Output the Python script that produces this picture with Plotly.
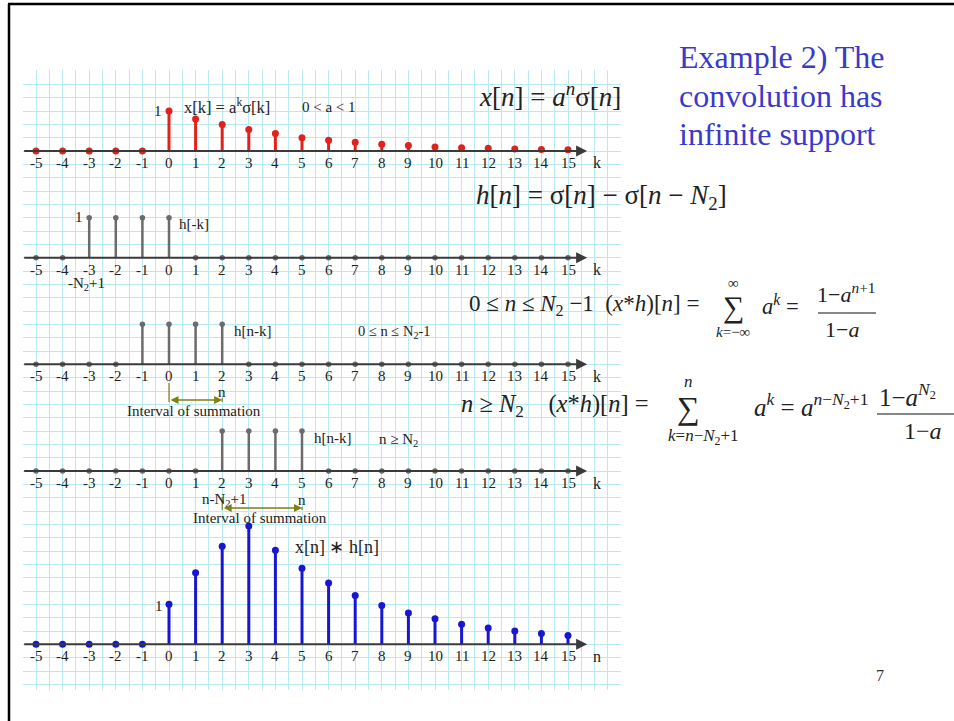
import plotly.graph_objects as go

# ---------------------------------------------------------------- data
k = list(range(-5, 16))

# x[k] = a^k sigma[k]
x_k = [0, 0, 0, 0, 0,
       1.0, 0.8, 0.66, 0.54, 0.44, 0.33, 0.27, 0.22, 0.17, 0.14,
       0.1, 0.08, 0.07, 0.05, 0.04, 0.03]

# h[-k]
h_flip = [0, 0, 1, 1, 1, 1, 0, 0, 0, 0, 0, 0, 0, 0, 0, 0, 0, 0, 0, 0, 0]

# h[n-k] for n = 2
h_shift_small = [0, 0, 0, 0, 1, 1, 1, 1, 0, 0, 0, 0, 0, 0, 0, 0, 0, 0, 0, 0, 0]

# h[n-k] for n = 5
h_shift_large = [0, 0, 0, 0, 0, 0, 0, 1, 1, 1, 1, 0, 0, 0, 0, 0, 0, 0, 0, 0, 0]

# (x*h)[n]
y_conv = [0, 0, 0, 0, 0,
          1.0, 1.79, 2.45, 2.96, 2.35, 1.9, 1.53, 1.22, 0.97, 0.78,
          0.64, 0.5, 0.41, 0.33, 0.27, 0.22]

n_small, n_large, N2 = 2, 5, 4

# ---------------------------------------------------------------- geometry
W, H = 954, 721
GRID_L, GRID_R, GRID_T, GRID_B = 22.7, 621.2, 70, 690
UNIT = 40.0  # pixels per unit of amplitude
X_MIN, X_MAX = -5.5, 17.0


def px(x):
    return x / W


def py(y):
    return 1 - y / H


RED, GRAY, BLUE = "#e3211c", "#6b6b6b", "#1717d2"
AXIS_C = "#3a3a3a"
TXT = "#222222"
OLIVE = "#7f7f14"
SERIF = "Liberation Serif"

panels = [
    dict(vals=x_k, color=RED, base=151.0, yid="y", lw=3, ms=7, end="k"),
    dict(vals=h_flip, color=GRAY, base=257.7, yid="y2", lw=2.5, ms=5.5, end="k"),
    dict(vals=h_shift_small, color=GRAY, base=364.3, yid="y3", lw=2.5, ms=5.5, end="k"),
    dict(vals=h_shift_large, color=GRAY, base=471.0, yid="y4", lw=2.5, ms=5.5, end="k"),
    dict(vals=y_conv, color=BLUE, base=644.3, yid="y5", lw=3, ms=7, end="n"),
]

fig = go.Figure()
annotations = []
shapes = []

for p in panels:
    sx, sy = [], []
    for kk, v in zip(k, p["vals"]):
        if v != 0:
            sx += [kk, kk, None]
            sy += [0, v, None]
    fig.add_trace(go.Scatter(x=sx, y=sy, mode="lines", yaxis=p["yid"],
                             line=dict(color=p["color"], width=p["lw"]),
                             hoverinfo="skip", showlegend=False))
    fig.add_trace(go.Scatter(x=k, y=p["vals"], mode="markers", yaxis=p["yid"],
                             marker=dict(color=p["color"], size=p["ms"]),
                             cliponaxis=False, showlegend=False))
    # horizontal axis with arrow head
    annotations.append(dict(x=15.72, y=0, ax=X_MIN, ay=0, xref="x", yref=p["yid"],
                            axref="x", ayref=p["yid"], text="", showarrow=True,
                            arrowhead=2, arrowsize=1.1, arrowwidth=2,
                            arrowcolor=AXIS_C))
    # tick labels
    for kk in k:
        annotations.append(dict(x=kk, y=0, xref="x", yref=p["yid"], text=str(kk),
                                showarrow=False, yshift=-12, yanchor="middle",
                                font=dict(family=SERIF, size=15, color=TXT)))
    annotations.append(dict(x=15.85, y=0, xref="x", yref=p["yid"], text=p["end"],
                            showarrow=False, yshift=-12, xanchor="left",
                            yanchor="middle",
                            font=dict(family=SERIF, size=16, color=TXT)))


def label(text, x, y, size=15, xanchor="left", color=TXT):
    annotations.append(dict(x=px(x), y=py(y), xref="paper", yref="paper",
                            text=text, showarrow=False, xanchor=xanchor,
                            yanchor="middle",
                            font=dict(family=SERIF, size=size, color=color)))


# panel labels
label("1", 158, 111, xanchor="center")
label("x[k] = a<sup>k</sup>σ[k]", 182, 107, size=16.5)
label("0 &lt; a &lt; 1", 300, 107, size=15)

label("1", 79, 217, xanchor="center")
label("h[-k]", 177, 224)
label("-N<sub>2</sub>+1", 86, 284, xanchor="center")

label("h[n-k]", 232, 331)
label("0 ≤ n ≤ N<sub>2</sub>-1", 356, 332, size=14.5)
label("n", 222, 392, xanchor="center")
label("Interval of summation", 194, 411, xanchor="center")

label("h[n-k]", 312, 438)
label("n ≥ N<sub>2</sub>", 377, 440, size=15)
label("n-N<sub>2</sub>+1", 224, 500, xanchor="center")
label("n", 302, 500, xanchor="center")
label("Interval of summation", 260, 518, xanchor="center")

label("1", 159, 606, xanchor="center")
label("x[n] ∗ h[n]", 293, 547, size=18)


# interval of summation brackets
def bracket(yid, base, k0, k1, top0, top1, y_arrow):
    for kk, top in ((k0, top0), (k1, top1)):
        shapes.append(dict(type="line", xref="x", yref=yid, x0=kk, x1=kk,
                           y0=(base - top) / UNIT, y1=(base - y_arrow - 2) / UNIT,
                           line=dict(color=OLIVE, width=1.2)))
    annotations.append(dict(x=k1, y=(base - y_arrow) / UNIT, ax=k0,
                            ay=(base - y_arrow) / UNIT, xref="x", yref=yid,
                            axref="x", ayref=yid, text="", showarrow=True,
                            arrowside="end+start", arrowhead=2, arrowsize=1,
                            arrowwidth=1.6, arrowcolor=OLIVE))


bracket("y3", 364.3, 0, n_small, 383, 398, 400)
bracket("y4", 471.0, n_large - N2 + 1, n_large, 497, 507, 508)

# ---------------------------------------------------------------- right side text
TITLE_C = "#3a3ac8"
label("Example 2) The", 677, 57, size=32, color=TITLE_C)
label("convolution has", 677, 96, size=32, color=TITLE_C)
label("infinite support", 677, 134, size=32, color=TITLE_C)

FS = 27
label("<i>x</i>[<i>n</i>] = <i>a</i><sup><i>n</i></sup>σ[<i>n</i>]", 477, 95, size=FS)
label("<i>h</i>[<i>n</i>] = σ[<i>n</i>] − σ[<i>n</i> − <i>N</i><sub>2</sub>]",
      474, 197, size=FS)

# case 0 <= n <= N2-1
label("0 ≤ <i>n</i> ≤ <i>N</i><sub>2</sub> −1  (<i>x</i>*<i>h</i>)[<i>n</i>] =",
      467, 305, size=23)
label("∑", 733, 307, size=30, xanchor="center")
label("∞", 733, 283, size=15, xanchor="center")
label("<i>k</i>=−∞", 733, 332, size=15, xanchor="center")
label("<i>a</i><sup><i>k</i></sup> =", 760, 305, size=22.5)
label("1−<i>a</i><sup><i>n</i>+1</sup>", 846, 293, size=22, xanchor="center")
shapes.append(dict(type="line", xref="paper", yref="paper", x0=px(818), x1=px(876),
                   y0=py(313), y1=py(313), line=dict(color="#111", width=1.2)))
label("1−<i>a</i>", 842, 329, size=22, xanchor="center")

# case n >= N2
label("<i>n</i> ≥ <i>N</i><sub>2</sub>    (<i>x</i>*<i>h</i>)[<i>n</i>] =", 459, 405, size=24.5)
label("∑", 688, 408, size=32, xanchor="center")
label("<i>n</i>", 688, 381, size=17, xanchor="center")
label("<i>k</i>=<i>n</i>−<i>N</i><sub>2</sub>+1", 703, 437, size=17, xanchor="center")
label("<i>a</i><sup><i>k</i></sup> = <i>a</i><sup><i>n</i>−<i>N</i><sub>2</sub>+1</sup>",
      752, 405, size=25)
label("1−<i>a</i><sup><i>N</i><sub>2</sub></sup>", 877, 395, size=25)
shapes.append(dict(type="line", xref="paper", yref="paper", x0=px(877), x1=px(960),
                   y0=py(414), y1=py(414), line=dict(color="#111", width=1.2)))
label("1−<i>a</i>", 923, 431, size=24, xanchor="center")

label("7", 880, 675, size=16, xanchor="center", color="#333")

# slide frame
shapes.append(dict(type="line", xref="paper", yref="paper", x0=px(8), x1=1,
                   y0=py(4), y1=py(4), line=dict(color="#000", width=2.5)))
shapes.append(dict(type="line", xref="paper", yref="paper", x0=px(9), x1=px(9),
                   y0=py(4), y1=0, line=dict(color="#000", width=2.5)))

# ---------------------------------------------------------------- axes
GRID_C = "#b9eaf2"
layout_axes = dict(
    xaxis=dict(domain=[px(GRID_L), px(GRID_R)], range=[X_MIN, X_MAX],
               tick0=0, dtick=0.5, showgrid=True, gridcolor=GRID_C, gridwidth=1,
               zeroline=False, showline=False, showticklabels=False, ticks="",
               fixedrange=True),
)
for i, p in enumerate(panels):
    rng = [-(GRID_B - p["base"]) / UNIT, (p["base"] - GRID_T) / UNIT]
    name = "yaxis" if i == 0 else f"yaxis{i + 1}"
    ax = dict(domain=[py(GRID_B), py(GRID_T)], range=rng, zeroline=False,
              showline=False, showticklabels=False, ticks="", fixedrange=True)
    if i == 0:
        ax.update(showgrid=True, gridcolor=GRID_C, gridwidth=1, tick0=0, dtick=1 / 3)
    else:
        ax.update(overlaying="y", showgrid=False, visible=False)
    layout_axes[name] = ax

fig.update_layout(
    width=W, height=H, margin=dict(l=0, r=0, t=0, b=0),
    paper_bgcolor="white", plot_bgcolor="white",
    showlegend=False, annotations=annotations, shapes=shapes,
    **layout_axes,
)

fig.write_html("out.html")
